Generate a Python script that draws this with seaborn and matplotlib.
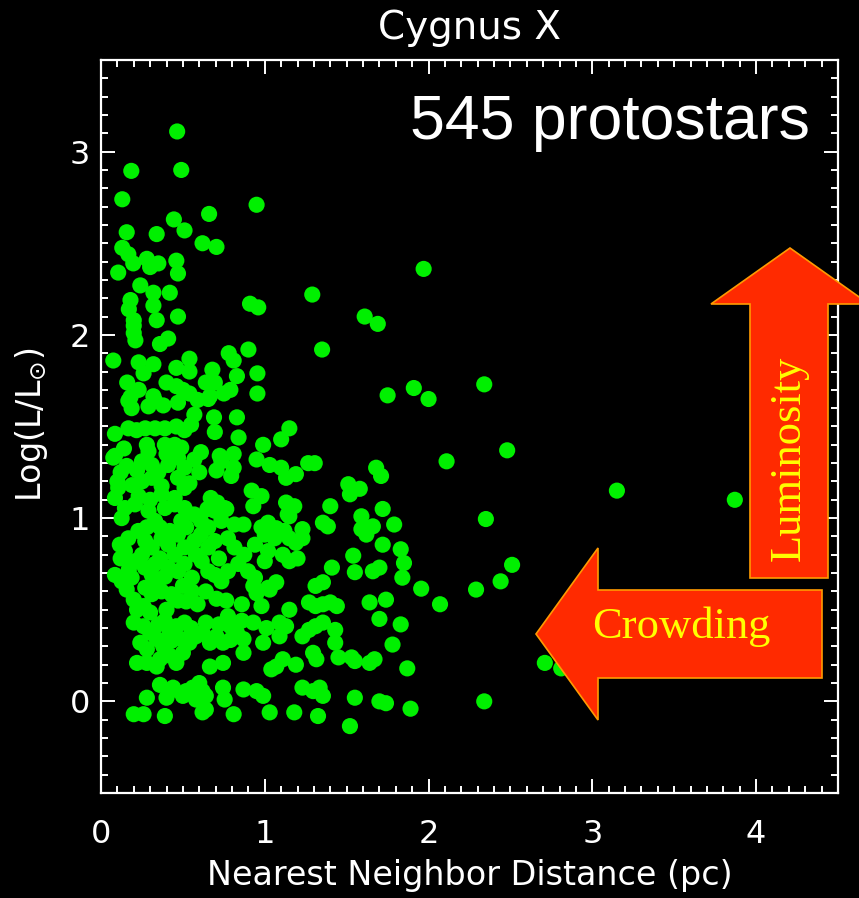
import matplotlib
matplotlib.use("Agg")
import matplotlib.pyplot as plt
from matplotlib.ticker import MultipleLocator
from matplotlib.patches import Polygon
import seaborn as sns
import pandas as pd

# ---- data: (nearest neighbor distance [pc], log(L/Lsun)) ----
band_high = [
    (0.465, 3.11), (0.185, 2.895), (0.49, 2.90), (0.13, 2.74), (0.95, 2.71), (0.66, 2.66),
    (0.445, 2.63), (0.51, 2.57), (0.157, 2.56), (0.34, 2.55), (0.62, 2.50), (0.705, 2.48),
    (0.13, 2.475), (0.167, 2.44), (0.197, 2.39), (0.28, 2.415), (0.35, 2.39), (0.30, 2.37),
    (0.46, 2.405), (0.47, 2.335), (0.105, 2.34), (0.24, 2.27), (0.32, 2.23), (0.42, 2.23),
    (1.29, 2.22), (0.18, 2.19), (0.91, 2.17), (0.96, 2.15), (0.32, 2.16), (0.17, 2.14),
    (0.20, 2.08), (0.20, 2.05), (0.20, 2.01), (0.21, 1.97), (0.34, 2.08), (0.36, 1.95),
    (0.41, 1.98), (0.47, 2.10), (1.35, 1.92), (0.90, 1.92), (0.075, 1.86), (0.23, 1.85),
    (0.32, 1.84), (0.26, 1.79), (0.54, 1.87), (0.46, 1.82), (0.54, 1.80), (0.78, 1.90),
    (0.81, 1.86), (0.68, 1.81), (0.83, 1.775), (0.955, 1.79), (0.16, 1.74), (0.23, 1.70),
    (0.40, 1.74), (0.46, 1.72), (0.50, 1.70), (0.54, 1.68), (0.64, 1.74), (0.695, 1.74),
    (0.79, 1.70), (0.75, 1.68), (0.955, 1.68), (0.32, 1.665), (0.665, 1.665), (0.18, 1.66),
    (1.61, 2.10), (1.69, 2.06), (1.75, 1.67), (1.91, 1.71), (2.0, 1.65),
]
band_upper_mid = [
    (0.167, 1.64), (0.187, 1.60), (0.29, 1.61), (0.33, 1.64), (0.38, 1.615), (0.47, 1.63),
    (0.57, 1.565), (0.69, 1.55), (0.83, 1.55), (0.085, 1.46), (0.167, 1.49), (0.217, 1.48),
    (0.27, 1.49), (0.33, 1.49), (0.39, 1.49), (0.46, 1.50), (0.51, 1.48), (0.55, 1.51),
    (0.695, 1.47), (0.84, 1.44), (0.99, 1.40), (0.28, 1.40), (0.29, 1.365), (0.39, 1.40),
    (0.45, 1.40), (0.49, 1.385), (0.085, 1.34), (0.61, 1.36), (0.725, 1.34), (0.81, 1.35),
    (0.45, 1.34), (0.59, 1.645), (0.655, 1.65), (1.15, 1.49), (1.10, 1.43),
    (0.14, 1.38), (0.40, 1.35),
]
band_mid = [
    (0.075, 1.33), (0.157, 1.285), (0.25, 1.31), (0.31, 1.29), (0.41, 1.29), (0.47, 1.33),
    (0.51, 1.275), (0.57, 1.32), (0.735, 1.31), (0.81, 1.275), (0.95, 1.32), (1.03, 1.29),
    (0.705, 1.26), (0.795, 1.23), (1.10, 1.275), (1.13, 1.22), (1.19, 1.24), (1.265, 1.30),
    (1.305, 1.30), (0.105, 1.165), (0.085, 1.11), (0.19, 1.18), (0.25, 1.20), (0.31, 1.22),
    (0.37, 1.175), (0.37, 1.13), (0.47, 1.22), (0.51, 1.165), (0.45, 1.11), (0.67, 1.11),
    (0.71, 1.085), (0.92, 1.15), (0.98, 1.12), (0.93, 1.065), (1.13, 1.085), (1.18, 1.065),
    (1.15, 1.01), (1.40, 1.065), (1.355, 0.975), (1.385, 0.955), (0.54, 1.19), (0.765, 1.05),
    (0.126, 1.0), (0.146, 1.055), (0.207, 1.075), (0.29, 1.04), (0.33, 0.985), (0.39, 1.055),
    (0.45, 1.075), (0.51, 1.055), (0.49, 0.985), (0.57, 1.02), (0.61, 0.985), (0.655, 0.95),
    (0.695, 1.04), (0.755, 1.055), (0.735, 0.985), (0.815, 0.965), (0.87, 0.965), (0.98, 0.95),
    (1.02, 0.975), (1.68, 1.275), (1.71, 1.23), (2.11, 1.31), (1.51, 1.185), (1.58, 1.16),
    (1.52, 1.13), (1.14, 1.02), (1.72, 1.05), (1.59, 1.01), (1.59, 0.94), (1.62, 0.91),
    (1.66, 0.955), (1.79, 0.965), (0.12, 1.25), (0.10, 1.20), (0.22, 1.26), (0.35, 1.25),
    (0.23, 1.12), (0.30, 1.10), (0.60, 1.25), (0.65, 1.05), (0.28, 0.95), (0.36, 0.95),
    (0.42, 0.93), (0.52, 0.95),
]
band_low_mid = [
    (0.115, 0.855), (0.167, 0.89), (0.146, 0.82), (0.228, 0.93), (0.27, 0.875), (0.31, 0.84),
    (0.25, 0.80), (0.37, 0.89), (0.41, 0.855), (0.47, 0.91), (0.51, 0.84), (0.57, 0.875),
    (0.61, 0.91), (0.655, 0.84), (0.695, 0.875), (0.775, 0.89), (0.815, 0.84), (0.875, 0.80),
    (0.94, 0.855), (1.0, 0.91), (1.02, 0.82), (1.07, 0.945), (1.12, 0.93), (1.06, 0.89),
    (1.15, 0.89), (1.19, 0.865), (1.23, 0.94), (1.23, 0.89), (1.11, 0.80), (1.15, 0.765),
    (1.20, 0.78), (1.41, 0.73), (0.085, 0.69), (0.126, 0.655), (0.187, 0.675), (0.207, 0.765),
    (0.268, 0.73), (0.31, 0.69), (0.35, 0.655), (0.37, 0.60), (0.31, 0.585), (0.41, 0.73),
    (0.47, 0.71), (0.51, 0.75), (0.555, 0.675), (0.615, 0.765), (0.655, 0.71), (0.695, 0.69),
    (0.735, 0.655), (0.775, 0.71), (0.838, 0.75), (0.898, 0.71), (0.94, 0.675), (1.0, 0.765),
    (1.02, 0.62), (0.43, 0.585), (0.555, 0.60), (0.64, 0.60), (1.72, 0.855), (1.83, 0.83),
    (1.54, 0.795), (1.85, 0.755), (1.55, 0.705), (1.66, 0.71), (1.70, 0.73), (1.84, 0.675),
    (1.955, 0.615), (0.33, 0.75), (0.39, 0.68), (0.45, 0.80), (0.27, 0.62), (0.50, 0.63),
    (0.12, 0.78), (0.17, 0.72), (0.58, 0.80), (0.72, 0.78), (0.36, 0.78),
]
band_low = [
    (0.157, 0.61), (0.44, 0.575), (0.95, 0.59), (0.93, 0.63), (1.03, 0.61), (1.07, 0.65),
    (1.15, 0.50), (1.31, 0.63), (1.355, 0.65), (1.27, 0.54), (1.31, 0.52), (1.40, 0.54),
    (1.44, 0.52), (0.20, 0.555), (0.22, 0.50), (0.26, 0.52), (0.30, 0.485), (0.47, 0.55),
    (0.52, 0.545), (0.705, 0.56), (0.765, 0.55), (0.86, 0.53), (0.98, 0.52), (0.59, 0.53),
    (0.20, 0.43), (0.26, 0.41), (0.30, 0.375), (0.46, 0.41), (0.42, 0.375), (0.64, 0.43),
    (0.79, 0.41), (0.83, 0.375), (0.93, 0.43), (1.01, 0.40), (0.62, 0.375), (0.705, 0.355),
    (0.35, 0.42), (0.39, 0.44), (0.51, 0.43), (0.55, 0.40), (0.72, 0.42), (0.775, 0.465),
    (0.86, 0.44), (0.24, 0.32), (0.34, 0.34), (0.38, 0.30), (0.54, 0.32), (0.58, 0.355),
    (0.665, 0.32), (0.745, 0.32), (0.87, 0.34), (0.99, 0.32), (0.28, 0.285), (0.43, 0.33),
    (0.49, 0.34), (0.695, 0.34), (0.79, 0.335), (0.22, 0.21), (0.28, 0.21), (0.34, 0.19),
    (0.36, 0.23), (0.42, 0.25), (0.46, 0.21), (0.50, 0.265), (0.665, 0.19), (0.745, 0.21),
    (0.87, 0.265), (1.04, 0.175), (1.23, 0.355), (1.27, 0.39), (1.31, 0.41), (1.355, 0.43),
    (1.295, 0.265), (1.315, 0.23), (1.09, 0.355), (1.11, 0.23), (1.07, 0.19), (1.19, 0.20),
    (1.09, 0.43), (1.13, 0.41), (1.64, 0.54), (1.74, 0.555), (1.70, 0.45), (1.83, 0.42),
    (1.78, 0.31), (1.87, 0.18), (1.64, 0.21), (1.67, 0.23), (1.55, 0.22), (1.53, 0.24),
    (1.45, 0.24), (1.43, 0.32), (1.43, 0.39), (2.07, 0.53), (1.355, 0.53), (0.40, 0.50),
]
band_floor = [
    (0.36, 0.09), (0.42, 0.056), (0.40, 0.02), (0.28, 0.02), (0.52, 0.056), (0.56, 0.075),
    (0.60, 0.10), (0.62, 0.056), (0.58, 0.01), (0.64, 0.03), (0.62, -0.06), (0.745, 0.075),
    (0.755, 0.01), (0.87, 0.065), (0.95, 0.056), (0.99, 0.03), (1.23, 0.075), (1.295, 0.056),
    (1.335, 0.075), (1.355, 0.03), (0.20, -0.07), (0.26, -0.07), (0.39, -0.08), (0.81, -0.07),
    (1.03, -0.06), (1.18, -0.06), (1.325, -0.08), (0.50, 0.03), (0.64, -0.045), (0.44, 0.075),
    (1.55, 0.02), (1.70, 0.0), (1.74, -0.01), (1.89, -0.04), (1.52, -0.135),
]
band_outliers = [
    (1.97, 2.36), (2.34, 1.73), (2.48, 1.37), (2.35, 0.995), (2.51, 0.745), (2.44, 0.655),
    (2.29, 0.61), (3.15, 1.15), (3.87, 1.10), (2.71, 0.21), (2.81, 0.18), (2.34, 0.0),
]

x_ticks = [0, 1, 2, 3, 4]
y_ticks = [0, 1, 2, 3]
title_text = "Cygnus X"
count_text = "545 protostars"

points = band_high + band_upper_mid + band_mid + band_low_mid + band_low + band_floor + band_outliers
df = pd.DataFrame(points, columns=["dist", "logL"])

W, H = 859, 898
fig = plt.figure(figsize=(W / 100, H / 100), dpi=100, facecolor="black")
ax = fig.add_axes([101 / W, 1 - 793 / H, (838 - 101) / W, (793 - 60) / H])
ax.set_facecolor("black")

sns.scatterplot(data=df, x="dist", y="logL", ax=ax, color="#00f000", s=135,
                linewidth=0, edgecolor="none", zorder=2)

ax.set_xlim(0, 4.5)
ax.set_ylim(-0.5, 3.5)
ax.set_xticks(x_ticks)
ax.set_yticks(y_ticks)
ax.xaxis.set_minor_locator(MultipleLocator(0.1))
ax.yaxis.set_minor_locator(MultipleLocator(0.1))
ax.set_xlabel("")
ax.set_ylabel("")
for sp in ax.spines.values():
    sp.set_color("white")
    sp.set_linewidth(1.6)
ax.tick_params(which="both", direction="in", top=True, right=True, colors="white",
               width=1.4)
ax.tick_params(which="major", length=10)
ax.tick_params(which="minor", length=5)
ax.tick_params(axis="x", which="major", pad=19, labelsize=23, labelcolor="white")
ax.tick_params(axis="y", which="major", pad=8, labelsize=23, labelcolor="white")

fig.text(469.5 / W, 1 - 28 / H, title_text, color="white", fontsize=28,
         ha="center", va="center", family="DejaVu Sans")
fig.text(470 / W, 1 - 876 / H, "Nearest Neighbor Distance (pc)", color="white",
         fontsize=24, ha="center", va="center", family="DejaVu Sans")
fig.text(31 / W, 1 - 425 / H, r"Log(L/L$_{\odot}$)", color="white", fontsize=24,
         rotation=90, ha="center", va="center", family="DejaVu Sans")
fig.text(810 / W, 1 - 139 / H, count_text, color="white", fontsize=45,
         ha="right", va="baseline", family="Liberation Sans")

def fig_poly(pts_px, **kw):
    pts = [(px / W, 1 - py / H) for px, py in pts_px]
    fig.add_artist(Polygon(pts, closed=True, transform=fig.transFigure, **kw))

arrow_kw = dict(facecolor="#ff2a00", edgecolor="#ff9a00", linewidth=1.2, zorder=5)
fig_poly([(750, 578), (750, 304), (711, 304), (790, 248), (869, 304), (828, 304), (828, 578)],
         **arrow_kw)
fig_poly([(822, 590), (598, 590), (598, 548), (536, 634), (598, 720), (598, 678), (822, 678)],
         **arrow_kw)
fig.text(789 / W, 1 - 458 / H, "Luminosity", color="#ffff00", fontsize=32, rotation=90,
         ha="center", va="center", family="Liberation Serif", zorder=6)
fig.text(681 / W, 1 - 627 / H, "Crowding", color="#ffff00", fontsize=32,
         ha="center", va="center", family="Liberation Serif", zorder=6)

fig.savefig("out.png", dpi=100, facecolor="black")
